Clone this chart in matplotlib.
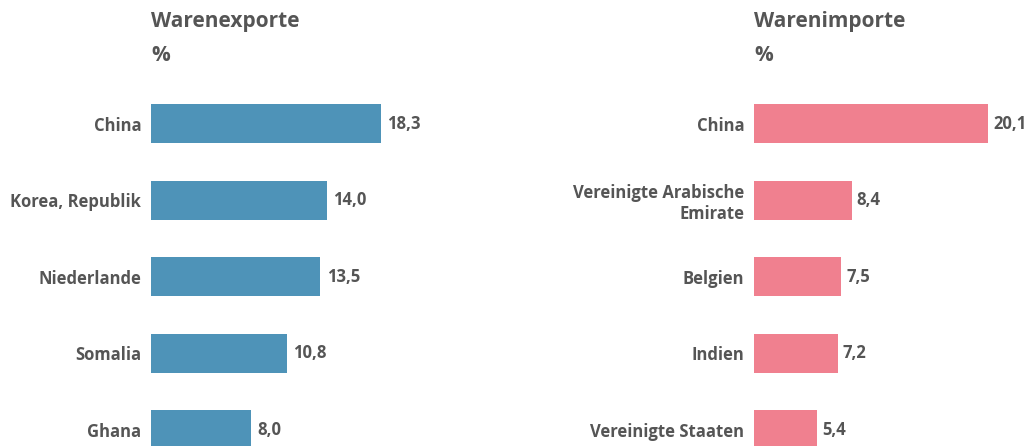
import matplotlib.pyplot as plt

export_countries = ["China", "Korea, Republik", "Niederlande", "Somalia", "Ghana"]
export_values = [18.3, 14.0, 13.5, 10.8, 8.0]
import_countries = ["China", "Vereinigte Arabische\nEmirate", "Belgien", "Indien", "Vereinigte Staaten"]
import_values = [20.1, 8.4, 7.5, 7.2, 5.4]

text_col = "#555555"
plt.rcParams["font.family"] = ["Open Sans", "DejaVu Sans"]

W, H = 1033, 446
fig = plt.figure(figsize=(W / 100, H / 100), dpi=100)

# axes placed in pixel terms (top at 85 px, running to the bottom edge)
ax1 = fig.add_axes([151 / W, 0, 349 / W, (H - 85) / H])
ax2 = fig.add_axes([754 / W, 0, 279 / W, (H - 85) / H])


def draw(ax, cats, vals, color, xmax, title):
    pos = list(range(len(cats)))
    bars = ax.barh(pos, vals, height=0.51, color=color)
    ax.set_ylim(4.21, -0.503)
    ax.set_xlim(0, xmax)
    ax.set_yticks(pos)
    ax.set_yticklabels(cats, fontsize=12, fontweight="bold", color=text_col,
                       linespacing=1.2)
    ax.tick_params(axis="y", length=0, pad=7)
    ax.set_xticks([])
    for s in ax.spines.values():
        s.set_visible(False)
    for b, v in zip(bars, vals):
        ax.text(b.get_width() + xmax * 0.018, b.get_y() + b.get_height() / 2,
                f"{v:.1f}".replace(".", ","), va="center", ha="left",
                fontsize=12, fontweight="bold", color=text_col)
    ax.text(0, 1.177, title, transform=ax.transAxes, ha="left", va="center",
            fontsize=15, fontweight="bold", color=text_col)
    ax.text(0, 1.082, "%", transform=ax.transAxes, ha="left", va="center",
            fontsize=15, fontweight="bold", color=text_col)


draw(ax1, export_countries, export_values, "#4E93B8", 27.8, "Warenexporte")
draw(ax2, import_countries, import_values, "#F0808F", 23.97, "Warenimporte")

fig.savefig("out.png", dpi=100)
